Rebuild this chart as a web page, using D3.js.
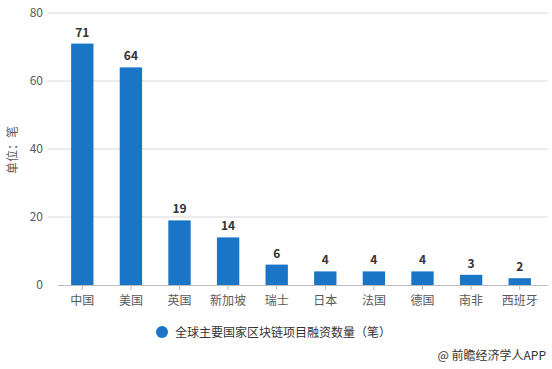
<!DOCTYPE html>
<html>
<head>
<meta charset="utf-8">
<script src="https://cdn.jsdelivr.net/npm/d3@7"></script>
<style>
  body { margin: 0; background: #fff; }
  text { font-family: "Noto Sans CJK SC", "Noto Sans", sans-serif; }
</style>
</head>
<body>
<svg id="chart" width="552" height="369"></svg>
<script>
// 数据
const countries = ["中国", "美国", "英国", "新加坡", "瑞士", "日本", "法国", "德国", "南非", "西班牙"];
const deals = [71, 64, 19, 14, 6, 4, 4, 4, 3, 2];
const yTicks = [0, 20, 40, 60, 80];
const seriesName = "全球主要国家区块链项目融资数量（笔）";

const W = 552, H = 369;
const svg = d3.select("#chart");
const barColor = "#1a75c6";

const x = d3.scaleBand().domain(countries).range([58, 544]).paddingInner(0.54).paddingOuter(0.27);
const y = d3.scaleLinear().domain([0, 80]).range([285, 13]);

// 网格线
svg.append("g").selectAll("line")
  .data(yTicks.filter(t => t > 0))
  .enter().append("line")
  .attr("x1", 48).attr("x2", 548)
  .attr("y1", d => y(d)).attr("y2", d => y(d))
  .attr("stroke", "#d9d9d9").attr("stroke-width", 1);

// y 轴标签
svg.append("g").selectAll("text")
  .data(yTicks)
  .enter().append("text")
  .attr("x", 43).attr("y", d => y(d) + 4)
  .attr("text-anchor", "end")
  .attr("font-size", 12).attr("fill", "#595959")
  .text(d => d);

svg.append("text")
  .attr("transform", "translate(17,150) rotate(-90)")
  .attr("text-anchor", "middle")
  .attr("font-size", 12).attr("fill", "#595959")
  .text("单位：笔");

// 柱子
svg.append("g").selectAll("rect")
  .data(countries)
  .enter().append("rect")
  .attr("x", d => x(d))
  .attr("y", (d, i) => y(deals[i]))
  .attr("width", x.bandwidth())
  .attr("height", (d, i) => y(0) - y(deals[i]))
  .attr("fill", barColor);

// 数值标签
svg.append("g").selectAll("text")
  .data(countries)
  .enter().append("text")
  .attr("x", d => x(d) + x.bandwidth() / 2)
  .attr("y", (d, i) => y(deals[i]) - 7)
  .attr("text-anchor", "middle")
  .attr("font-size", 12).attr("font-weight", "bold").attr("fill", "#333")
  .text((d, i) => deals[i]);

// x 轴
const xAxis = svg.append("g").attr("transform", `translate(0,${y(0)})`);
xAxis.append("line").attr("x1", 58).attr("x2", 548).attr("y1", 0.5).attr("y2", 0.5)
  .attr("stroke", "#bbb");
xAxis.selectAll("line.tick")
  .data(countries)
  .enter().append("line").attr("class", "tick")
  .attr("x1", d => x(d) + x.bandwidth() / 2).attr("x2", d => x(d) + x.bandwidth() / 2)
  .attr("y1", 0).attr("y2", 5)
  .attr("stroke", "#bbb");
xAxis.selectAll("text")
  .data(countries)
  .enter().append("text")
  .attr("x", d => x(d) + x.bandwidth() / 2)
  .attr("y", 20)
  .attr("text-anchor", "middle")
  .attr("font-size", 12).attr("fill", "#595959")
  .text(d => d);

// 图例
svg.append("circle").attr("cx", 162).attr("cy", 332).attr("r", 6).attr("fill", barColor);
svg.append("text").attr("x", 175).attr("y", 336.5)
  .attr("font-size", 12).attr("fill", "#333")
  .text(seriesName);

// 来源
svg.append("text").attr("x", 546).attr("y", 360)
  .attr("text-anchor", "end")
  .attr("font-size", 12).attr("fill", "#333")
  .text("@ 前瞻经济学人APP");
</script>
</body>
</html>
